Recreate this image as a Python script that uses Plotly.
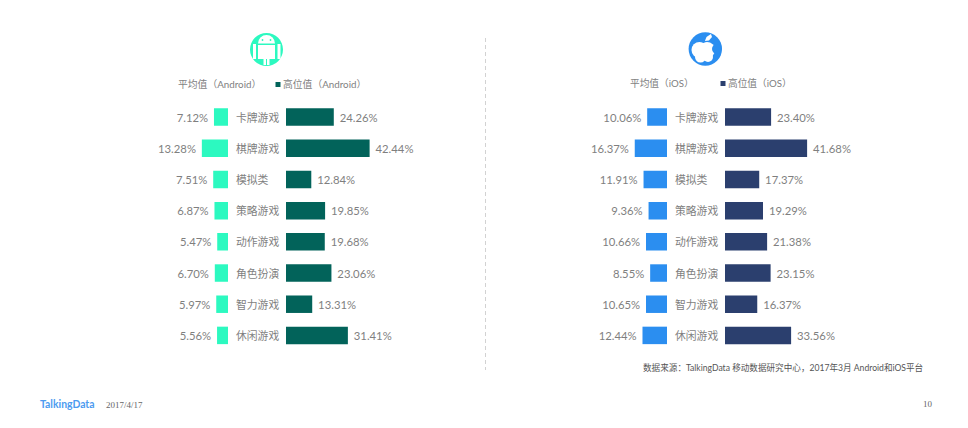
import plotly.graph_objects as go

# DATA
categories = ["卡牌游戏", "棋牌游戏", "模拟类", "策略游戏", "动作游戏", "角色扮演", "智力游戏", "休闲游戏"]
android_avg = [7.12, 13.28, 7.51, 6.87, 5.47, 6.70, 5.97, 5.56]
android_high = [24.26, 42.44, 12.84, 19.85, 19.68, 23.06, 13.31, 31.41]
ios_avg = [10.06, 16.37, 11.91, 9.36, 10.66, 8.55, 10.65, 12.44]
ios_high = [23.40, 41.68, 17.37, 19.29, 21.38, 23.15, 16.37, 33.56]

# the page body has an 8px margin, so the figure is smaller than the window
BODY = 8
W, H = 968 - 2 * BODY, 428 - 2 * BODY
PX_PER_UNIT = 1.97
FONT = "Lato, 'Noto Sans CJK SC', sans-serif"
GREY = "#7f7f7f"
PAD = "\u00a0"


def px(x):
    return (x - BODY) / W


def py(y):
    return 1 - (y - BODY) / H


fig = go.Figure()

# four bar panels: avg grows left from x_end, high grows right from x_start
panels = [
    (android_avg, "#2CF9C0", "x", "y", 150, 228, True),
    (android_high, "#02635A", "x2", "y2", 286, 430, False),
    (ios_avg, "#2B8EF0", "x3", "y3", 590, 667, True),
    (ios_high, "#2B3F6E", "x4", "y4", 725, 870, False),
]
layout_axes = {}
for vals, color, xa, ya, x0, x1, rev in panels:
    if rev:
        labels = ["%.2f%%%s" % (v, PAD) for v in vals]
    else:
        labels = ["%s%.2f%%" % (PAD, v) for v in vals]
    fig.add_trace(go.Bar(
        x=vals, y=categories, orientation="h", xaxis=xa, yaxis=ya,
        marker=dict(color=color, line=dict(width=0)), width=0.56,
        text=labels, textposition="outside",
        cliponaxis=False, showlegend=False,
        textfont=dict(family=FONT, size=11.3, color=GREY),
    ))
    span = (x1 - x0) / PX_PER_UNIT
    xname = "xaxis" + xa[1:]
    yname = "yaxis" + ya[1:]
    layout_axes[xname] = dict(
        domain=[px(x0), px(x1)], range=[span, 0] if rev else [0, span],
        visible=False, anchor=ya, fixedrange=True,
    )
    layout_axes[yname] = dict(
        domain=[py(351), py(101.5)], autorange="reversed", visible=False,
        anchor=xa, categoryorder="array", categoryarray=categories,
    )

annotations = []


def text(x, y, s, size=11, color=GREY, family=FONT, anchor="left"):
    annotations.append(dict(
        x=px(x), y=py(y), xref="paper", yref="paper", text=s, showarrow=False,
        xanchor=anchor, yanchor="middle", xshift=-2,
        font=dict(family=family, size=size, color=color),
    ))


# category labels between the bars
for ya, lx in (("y", 236), ("y3", 675)):
    for c in categories:
        annotations.append(dict(
            x=px(lx), y=c, xref="paper", yref=ya, text=c, showarrow=False,
            xanchor="left", yanchor="middle", xshift=-2,
            font=dict(family=FONT, size=10.8, color=GREY),
        ))

text(178, 84, "平均值（Android）", 9.8)
text(282.5, 84, "高位值（Android）", 9.8)
text(630, 83, "平均值（iOS）", 9.7)
text(728, 83, "高位值（iOS）", 9.7)
text(643, 367, "数据来源：TalkingData 移动数据研究中心，2017年3月 Android和iOS平台", 8.6, "#555555")
text(40, 404, "<b>TalkingData</b>", 10.4, "#4C9BF0")
text(106, 405, "2017/4/17", 9, "#666666", "'Liberation Serif', serif")
text(923, 404, "10", 9, "#666666", "'Liberation Serif', serif")


def rect(x0, y0, x1, y1, color):
    return dict(type="rect", xref="paper", yref="paper", x0=px(x0), x1=px(x1), y0=py(y0), y1=py(y1),
                fillcolor=color, line=dict(width=0), layer="above")


def circle(cx, cy, r, color):
    return dict(type="circle", xref="paper", yref="paper", x0=px(cx - r), x1=px(cx + r),
                y0=py(cy + r), y1=py(cy - r), fillcolor=color, line=dict(width=0), layer="above")


def path(pts, color):
    d = "M " + " L ".join("%.4f %.4f" % (px(a), py(b)) for a, b in pts) + " Z"
    return dict(type="path", xref="paper", yref="paper", path=d, fillcolor=color,
                line=dict(width=0), layer="above")


shapes = [
    dict(type="line", xref="paper", yref="paper", x0=px(485.5), x1=px(485.5), y0=py(38), y1=py(370),
         line=dict(color="#D2D2D2", width=1, dash="4px,3px")),
    rect(275.5, 82, 280.5, 87, "#02635A"),
    rect(720.5, 81, 725.5, 86, "#2B3F6E"),
    # android icon
    circle(266.5, 49.5, 16.5, "#2CF9C0"),
    circle(266.5, 43.5, 8.5, "#FFFFFF"),
    rect(257, 43.5, 276, 45, "#2CF9C0"),
    rect(258, 45, 275, 59, "#FFFFFF"),
    rect(263.5, 59, 266, 65, "#FFFFFF"),
    rect(267, 59, 269.5, 65, "#FFFFFF"),
    rect(253, 44, 256, 59, "#FFFFFF"),
    rect(277.5, 44, 280.5, 59, "#FFFFFF"),
    circle(262.5, 40, 0.9, "#2CF9C0"),
    circle(270.5, 40, 0.9, "#2CF9C0"),
    # apple icon
    circle(705.3, 49, 16.7, "#2B8EF0"),
    circle(699.5, 50, 8, "#FFFFFF"),
    circle(707, 50, 8, "#FFFFFF"),
    circle(700.5, 57, 5.5, "#FFFFFF"),
    circle(708, 57, 5, "#FFFFFF"),
    circle(716.8, 49, 4.8, "#2B8EF0"),
    circle(703.5, 41.5, 1.3, "#2B8EF0"),
    path([(705, 41), (706.5, 37), (711, 34), (712, 37), (709, 40.5)], "#FFFFFF"),
]

fig.update_layout(
    width=W, height=H, autosize=False, margin=dict(l=0, r=0, t=0, b=0),
    paper_bgcolor="white", plot_bgcolor="white", bargap=0.45,
    annotations=annotations, shapes=shapes, **layout_axes,
)

fig.write_html("out.html")
